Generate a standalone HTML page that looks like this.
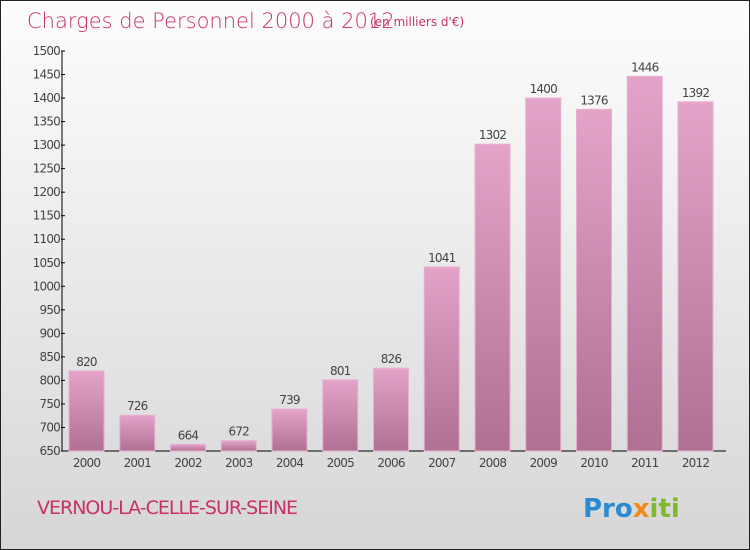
<!DOCTYPE html>
<html><head><meta charset="utf-8"><style>
body{margin:0;}
#c{width:748px;height:548px;border:1px solid #222;background:linear-gradient(#fdfdfd,#d6d6d6);position:relative;overflow:hidden;font-family:"DejaVu Sans","Liberation Sans",sans-serif;}
</style></head><body>
<div id="c">
<svg width="748" height="548">
<defs><linearGradient id="bg" x1="0" y1="0" x2="0" y2="1"><stop offset="0" stop-color="#e4a3c8"/><stop offset="1" stop-color="#b07094"/></linearGradient></defs>
<text x="26" y="27" font-size="21" fill="#c8306a" font-weight="200">Charges de Personnel 2000 à 2012</text>
<text x="369" y="25" font-size="12" fill="#c8306a">(en milliers d'€)</text>
<g id="axis"></g>
<g id="bars"></g>
<text x="36" y="513" font-size="19" fill="#c8306a" letter-spacing="-1">VERNOU-LA-CELLE-SUR-SEINE</text>
<text x="582" y="516" font-size="26" font-weight="bold"><tspan fill="#2a8bd0">Pro</tspan><tspan fill="#f08a1c">x</tspan><tspan fill="#7cba2c">iti</tspan></text>
</svg></div>
<script>
const categories=["2000","2001","2002","2003","2004","2005","2006","2007","2008","2009","2010","2011","2012"];
const values=[820,726,664,672,739,801,826,1041,1302,1400,1376,1446,1392];
const yTicks=[650,700,750,800,850,900,950,1000,1050,1100,1150,1200,1250,1300,1350,1400,1450,1500];
const NS="http://www.w3.org/2000/svg";
const y0=450,y1=50,vmin=650,vmax=1500,x0=61;
const y=v=>y0-(v-vmin)/(vmax-vmin)*(y0-y1);
const xc=i=>85.5+i*50.75;
const ax=document.getElementById('axis'),bs=document.getElementById('bars');
function mk(t,a,p){const e=document.createElementNS(NS,t);for(const k in a)e.setAttribute(k,a[k]);p.appendChild(e);return e;}
let l=mk('line',{x1:x0,x2:x0,y1:y1,y2:y0,stroke:'#000'},ax);
l=mk('line',{x1:x0,x2:725,y1:y0,y2:y0,stroke:'#000'},ax);
yTicks.forEach(v=>{
 const t=mk('line',{x1:x0-1,x2:x0+3,y1:y(v),y2:y(v),stroke:'#000'},ax);
 
 
 const tx=mk('text',{x:x0-2,y:y(v)+4,'font-size':12,'text-anchor':'end',fill:'#444','letter-spacing':'-0.8'},ax);
 tx.textContent=v;
 
 
});
categories.forEach((c,i)=>{
 const r=mk('rect',{x:xc(i)-17.5,y:y(values[i]),width:35,height:y0-y(values[i]),fill:'url(#bg)',stroke:'#e8b0d0','stroke-width':1},bs);
 
 
 const v=mk('text',{x:xc(i),y:y(values[i])-5,'font-size':12,'text-anchor':'middle',fill:'#444','letter-spacing':'-0.8'},bs);
 v.textContent=values[i];
 
 
 const t=mk('text',{x:xc(i),y:466,'font-size':12,'text-anchor':'middle',fill:'#444','letter-spacing':'-0.8'},bs);
 t.textContent=c;
 
 
});
</script>
</body></html>
